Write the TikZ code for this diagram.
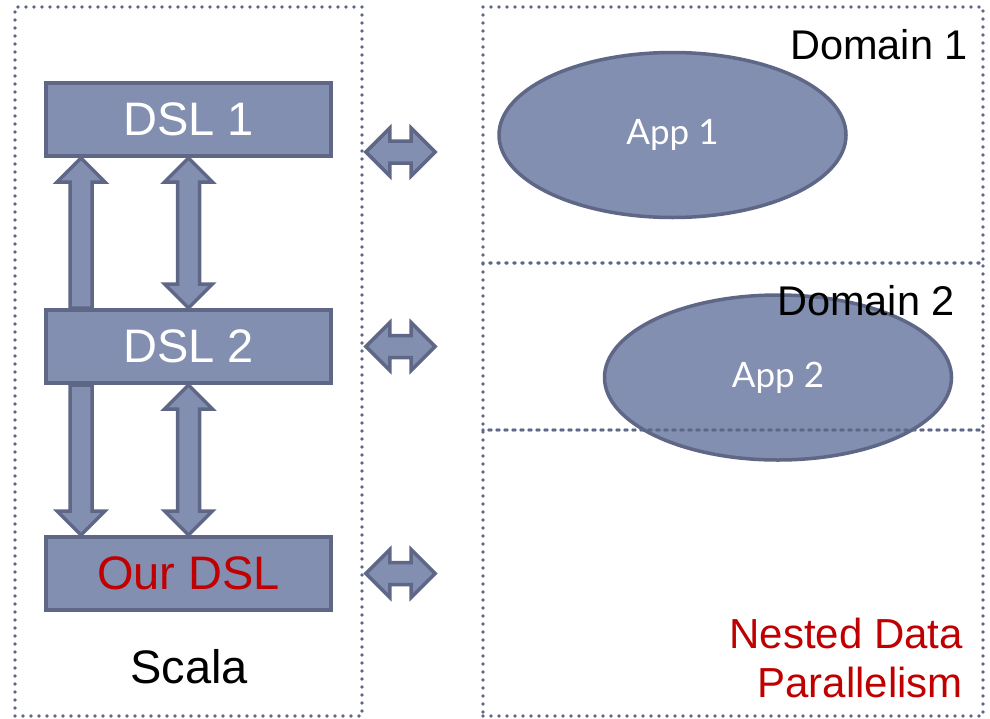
\documentclass[tikz,border=0pt]{standalone}
\usepackage{fontspec}
\setmainfont{Liberation Sans}
\newfontfamily\appfont{Lato}
\usetikzlibrary{calc}
\usetikzlibrary{shapes.geometric}

\definecolor{boxfill}{HTML}{828FB0}
\definecolor{boxline}{HTML}{5F6787}
\definecolor{dslred}{HTML}{C00000}

\begin{document}
\begin{tikzpicture}[x=1pt,y=-1pt]
			\tikzset{dsl/.style = {shape=rectangle,draw=boxline,fill=boxfill,line width=4pt,minimum width=285,minimum height=73,inner sep=0pt,text=white,font=\fontsize{47}{56}\selectfont}}
			\tikzset{app/.style = {shape=ellipse,draw=boxline,fill=boxfill,line width=3.5pt,minimum width=347,minimum height=165,inner sep=0pt,text=white,font=\appfont\fontsize{35}{40}\selectfont}}
			\tikzset{areabox/.style = {shape=rectangle,draw=boxline,line width=3.8pt,dash pattern=on 0pt off 8pt,line cap=round,inner sep=0pt}}
			\tikzset{areatext/.style = {inner sep=0pt,font=\fontsize{41.5}{49}\selectfont}}
			\tikzset{fatarrow/.style = {draw=boxline,fill=boxfill,line width=3.5pt,line join=miter}}
			\tikzset{fatsingle/.style = {fatarrow, to path={
				($(\tikztostart)!11pt!90:(\tikztotarget)$)
				-- ($(\tikztotarget)!24pt!(\tikztostart)!11pt!-90:(\tikztostart)$)
				-- ($(\tikztotarget)!24pt!(\tikztostart)!24pt!-90:(\tikztostart)$)
				-- (\tikztotarget)
				-- ($(\tikztotarget)!24pt!(\tikztostart)!24pt!90:(\tikztostart)$)
				-- ($(\tikztotarget)!24pt!(\tikztostart)!11pt!90:(\tikztostart)$)
				-- ($(\tikztostart)!11pt!-90:(\tikztotarget)$)
				-- cycle}}}
			\tikzset{fatdouble/.style = {fatarrow, to path={
				(\tikztostart)
				-- ($(\tikztostart)!24pt!(\tikztotarget)!24pt!90:(\tikztotarget)$)
				-- ($(\tikztostart)!24pt!(\tikztotarget)!11pt!90:(\tikztotarget)$)
				-- ($(\tikztotarget)!24pt!(\tikztostart)!11pt!-90:(\tikztostart)$)
				-- ($(\tikztotarget)!24pt!(\tikztostart)!24pt!-90:(\tikztostart)$)
				-- (\tikztotarget)
				-- ($(\tikztotarget)!24pt!(\tikztostart)!24pt!90:(\tikztostart)$)
				-- ($(\tikztotarget)!24pt!(\tikztostart)!11pt!90:(\tikztostart)$)
				-- ($(\tikztostart)!24pt!(\tikztotarget)!11pt!-90:(\tikztotarget)$)
				-- ($(\tikztostart)!24pt!(\tikztotarget)!24pt!-90:(\tikztotarget)$)
				-- cycle}}}
			\useasboundingbox (0,0) rectangle (990,718);
			% languages
			\node[dsl] (dsl1) at (188.5, 119.5) {DSL 1};
			\node[dsl] (dsl2) at (188.5, 346.5) {DSL 2};
			\node[dsl, text=dslred] (ourdsl) at (188.5, 573.5) {Our DSL};
			% embeddings
			\draw[fatsingle] ($(dsl2.north west)+(37,0)$) to ($(dsl1.south west)+(37,0)$);
			\draw[fatdouble] (dsl1.south) to (dsl2.north);
			\draw[fatsingle] ($(dsl2.south west)+(37,0)$) to ($(ourdsl.north west)+(37,0)$);
			\draw[fatdouble] (dsl2.south) to (ourdsl.north);
			% applications
			\node[app] (app1) at (672.5, 135) {App 1};
			\node[app] (app2) at (778, 377.5) {App 2};
			% areas
			\node[areabox, minimum width=347, minimum height=709] (scala) at (188.5, 361.5) {};
			\node[areabox, minimum width=500, minimum height=256] (dom1) at (733, 135) {};
			\node[areabox, minimum width=500, minimum height=167] (dom2) at (733, 346.5) {};
			\node[areabox, minimum width=500, minimum height=286] (dom3) at (733, 573) {};
			% links
			\draw[fatdouble] ($(scala.east |- dsl1.south)+(2,-6)$) to ($(dom1.west |- dsl1.south)+(-46,-6)$);
			\draw[fatdouble] ($(scala.east |- dsl2)+(2,0)$) to ($(dom2.west |- dsl2)+(-46,0)$);
			\draw[fatdouble] ($(scala.east |- ourdsl)+(2,0)$) to ($(dom3.west |- ourdsl)+(-46,0)$);
			% texts
			\node[areatext, anchor=base, font=\fontsize{47}{56}\selectfont] (scalatext) at (189, 683) {Scala};
			\node[areatext, anchor=base east] (dom1text) at (968, 59) {Domain 1};
			\node[areatext, anchor=base east] (dom2text) at (955, 315) {Domain 2};
			\node[areatext, anchor=east, align=right, text=dslred, font=\fontsize{42}{49}\selectfont] (dom3text) at (963, 658) {Nested Data\\Parallelism};
		\end{tikzpicture}
\end{document}
